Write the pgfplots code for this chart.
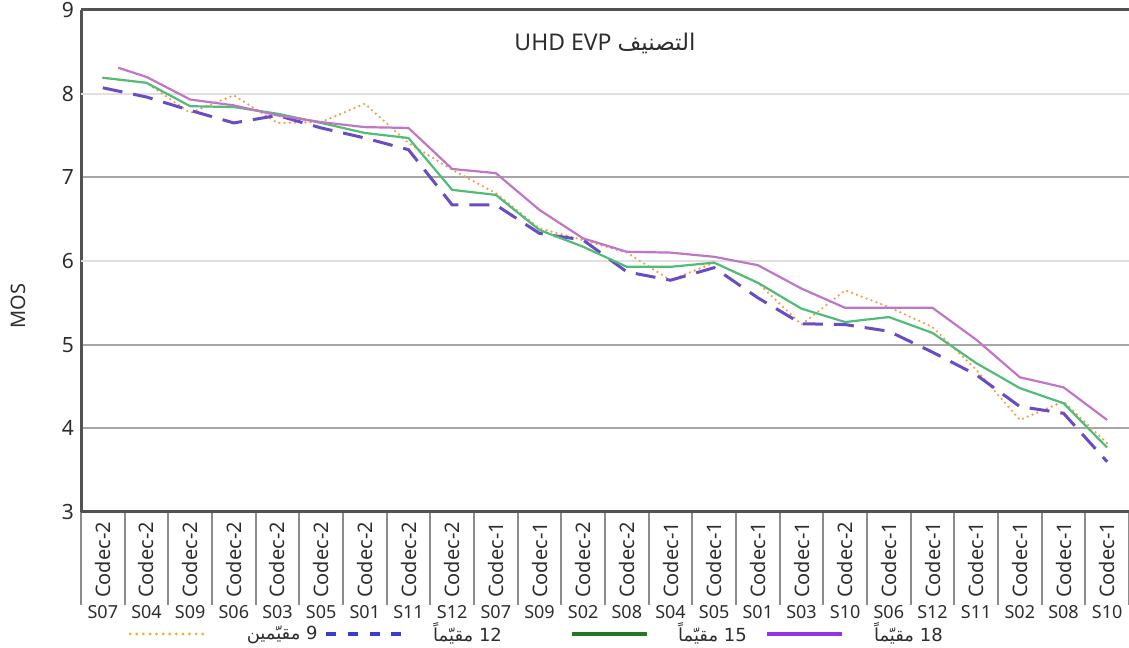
\documentclass[border=0pt]{standalone}
\usepackage{fontspec}
\setmainfont{Noto Sans}
\newfontfamily\arabicfont[Script=Arabic]{DejaVu Sans}
\TeXXeTstate=1
\usepackage{graphicx}
\usepackage{pgfplots}
\pgfplotsset{compat=1.18}

\definecolor{cOr}{RGB}{243,160,80}
\definecolor{cBl}{RGB}{105,75,195}
\definecolor{cGr}{RGB}{80,188,120}
\definecolor{cPu}{RGB}{192,118,198}
\definecolor{lOr}{RGB}{232,182,45}
\definecolor{lBl}{RGB}{55,60,210}
\definecolor{lGr}{RGB}{35,120,40}
\definecolor{lPu}{RGB}{150,50,230}
\definecolor{txt}{RGB}{45,45,45}

\newcommand{\cl}[2]{\rotatebox{90}{Codec-#1}\\[-0.5pt]{\fontsize{9}{10}\selectfont S#2}}

\begin{document}
\begin{tikzpicture}
\begin{axis}[
  scale only axis,
  width=524pt, height=251pt,
  xmin=-0.5, xmax=23.5,
  ymin=3, ymax=9,
  axis x line=box, axis y line=left,
  axis line style={draw=black!68, line width=1.5pt, -},
  tick pos=left,
  ytick={3,4,5,7,9},
  extra y ticks={6,8},
  extra y tick style={grid style={black!12, line width=0.9pt}},
  ymajorgrids,
  grid style={black!35, line width=0.9pt},
  major tick length=0pt,
  xtick={0,...,23},
  minor xtick={-0.5,0.5,...,23.5},
  tick align=outside,
  minor tick length=46.5pt,
  minor x tick style={draw=black!45, line width=1pt},
  /pgf/number format/assume math mode=true,
  yticklabel style={font=\fontsize{10.5}{12}\selectfont, text=txt},
  xticklabel style={align=center, anchor=north, font=\fontsize{10}{11}\selectfont, text=txt, yshift=-1.5pt},
  xticklabels={\cl{2}{07},\cl{2}{04},\cl{2}{09},\cl{2}{06},\cl{2}{03},\cl{2}{05},\cl{2}{01},\cl{2}{11},\cl{2}{12},\cl{1}{07},\cl{1}{09},\cl{2}{02},\cl{2}{08},\cl{1}{04},\cl{1}{05},\cl{1}{01},\cl{1}{03},\cl{2}{10},\cl{1}{06},\cl{1}{12},\cl{1}{11},\cl{1}{02},\cl{1}{08},\cl{1}{10}},
  ylabel={MOS},
  ylabel style={at={(axis description cs:-0.06,0.41)}, anchor=center, font=\fontsize{10}{12}\selectfont, text=txt},
  legend columns=4,
  legend cell align=right,
  legend style={draw=none, fill=none, inner sep=0pt, at={(axis description cs:0.045,-0.243)}, anchor=west,
    font=\fontsize{9}{10.5}\selectfont, text=txt,
    /tikz/every odd column/.append style={column sep=13pt},
    /tikz/every even column/.append style={column sep=0pt}},
  legend image code/.code={\draw[#1] (0pt,0pt) -- (37.5pt,0pt);},
]
\coordinate (TL) at (rel axis cs:0,1);
\coordinate (BR) at (rel axis cs:1,0);

% 9 raters
\addplot[forget plot, color=cOr, line width=1.3pt, line cap=round, dash pattern=on 0pt off 2.6pt] coordinates {
(0,8.19)(1,8.13)(2,7.77)(3,7.98)(4,7.65)(5,7.66)(6,7.88)(7,7.41)(8,7.09)(9,6.81)(10,6.39)(11,6.25)
(12,6.10)(13,5.77)(14,5.98)(15,5.74)(16,5.24)(17,5.65)(18,5.45)(19,5.21)(20,4.70)(21,4.10)(22,4.32)(23,3.82)};
% 12 raters
\addplot[forget plot, color=cBl, line width=1.5pt, dash pattern=on 10pt off 5.5pt] coordinates {
(0,8.07)(1,7.96)(2,7.80)(3,7.65)(4,7.74)(5,7.59)(6,7.47)(7,7.33)(8,6.67)(9,6.67)(10,6.33)(11,6.25)
(12,5.87)(13,5.77)(14,5.92)(15,5.56)(16,5.25)(17,5.24)(18,5.16)(19,4.91)(20,4.64)(21,4.26)(22,4.18)(23,3.60)};
% 15 raters
\addplot[forget plot, color=cGr, line width=1.1pt] coordinates {
(0,8.19)(1,8.13)(2,7.85)(3,7.84)(4,7.76)(5,7.65)(6,7.53)(7,7.47)(8,6.85)(9,6.79)(10,6.37)(11,6.17)
(12,5.93)(13,5.93)(14,5.98)(15,5.74)(16,5.43)(17,5.27)(18,5.33)(19,5.14)(20,4.78)(21,4.48)(22,4.30)(23,3.77)};
% 18 raters
\addplot[forget plot, color=cPu, line width=1.1pt] coordinates {
(0.35,8.31)(1,8.20)(2,7.93)(3,7.86)(4,7.74)(5,7.66)(6,7.60)(7,7.59)(8,7.10)(9,7.05)(10,6.61)(11,6.27)
(12,6.11)(13,6.10)(14,6.05)(15,5.95)(16,5.67)(17,5.44)(18,5.44)(19,5.44)(20,5.06)(21,4.61)(22,4.49)(23,4.10)};

\addlegendimage{color=lOr, line width=1.6pt, line cap=round, dash pattern=on 0pt off 3.3pt}
\addlegendentry{\hspace*{5pt}\arabicfont\beginR 9 مقيّمين\endR\hspace*{1.5pt}}
\addlegendimage{color=lBl, line width=1.8pt, dash pattern=on 5pt off 5.8pt}
\addlegendentry{\arabicfont\beginR 12 مقيّماً\endR\hspace*{32pt}}
\addlegendimage{color=lGr, line width=1.6pt}
\addlegendentry{\arabicfont\beginR 15 مقيّماً\endR\hspace*{7.5pt}}
\addlegendimage{color=lPu, line width=1.6pt}
\addlegendentry{\arabicfont\beginR 18 مقيّماً\endR}

\node[font=\fontsize{11.5}{13}\selectfont, text=txt] at (axis description cs:0.5,0.934)
  {\beginR{\arabicfont التصنيف} \beginL UHD EVP\endL\endR};
\end{axis}
\pgfresetboundingbox
\path ([xshift=-40.5pt,yshift=5pt]TL) rectangle ([yshift=-68pt]BR);
\end{tikzpicture}
\end{document}
